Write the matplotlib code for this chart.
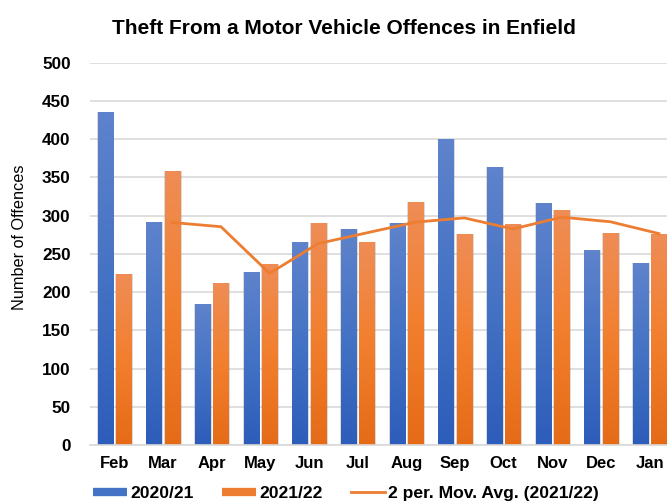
import numpy as np
import matplotlib
matplotlib.use("Agg")
import matplotlib.pyplot as plt
from matplotlib.colors import LinearSegmentedColormap
from matplotlib.lines import Line2D

months = ["Feb", "Mar", "Apr", "May", "Jun", "Jul", "Aug", "Sep", "Oct", "Nov", "Dec", "Jan"]
y2020 = [436, 292, 185, 226, 265, 282, 290, 400, 363, 316, 255, 238]
y2021 = [223, 359, 212, 237, 290, 265, 318, 276, 289, 307, 277, 276]
series_names = ["2020/21", "2021/22", "2 per. Mov. Avg. (2021/22)"]
title = "Theft From a Motor Vehicle Offences in Enfield"
ylabel = "Number of Offences"

plt.rcParams['font.family'] = ['Liberation Sans', 'DejaVu Sans']

W, H = 667, 501
fig = plt.figure(figsize=(W / 100, H / 100), dpi=100)
ax = fig.add_axes([90 / W, (H - 445) / H, 584 / W, 382.3 / H])

x = np.arange(len(months))
bw = 0.31
off = 0.19

blue_cmap = LinearSegmentedColormap.from_list("b", ["#2d5dba", "#4472c4", "#5f83cc"])
orange_cmap = LinearSegmentedColormap.from_list("o", ["#e56b17", "#f27f2e", "#ef8d56"])
grad = np.linspace(0, 1, 256).reshape(-1, 1)

def gradient_bars(xpos, vals, cmap, base):
    # soft shadow
    ax.bar(xpos + 0.012, vals, width=bw + 0.05, color="#9a9a9a", alpha=0.35, zorder=1.9, linewidth=0)
    bars = ax.bar(xpos, vals, width=bw, color=base, zorder=2, linewidth=0)
    for b in bars:
        x0, w, h = b.get_x(), b.get_width(), b.get_height()
        im = ax.imshow(grad, extent=[x0, x0 + w, 0, h], origin="lower", aspect="auto",
                       cmap=cmap, zorder=2.1, interpolation="bilinear")
        im.set_clip_path(b)
    return bars

gradient_bars(x - off, np.array(y2020), blue_cmap, "#4472c4")
gradient_bars(x + off, np.array(y2021), orange_cmap, "#ed7d31")

o = np.array(y2021, dtype=float)
mavg = (o[1:] + o[:-1]) / 2.0
ax.plot(x[1:] + off, mavg, color="#ed7d31", linewidth=2, zorder=3, solid_joinstyle="miter")

ax.set_xlim(-0.5, len(months) - 0.5)
ax.set_ylim(0, 500)
ax.set_yticks(np.arange(0, 501, 50))
ax.set_xticks(x)
ax.set_xticklabels(months, fontsize=12, fontweight="bold")
ax.tick_params(axis="y", labelsize=12.3, length=0, pad=14)
ax.tick_params(axis="x", length=0, pad=8)
for lab in ax.get_yticklabels():
    lab.set_fontweight("bold")
ax.grid(axis="y", color="#d9d9d9", linewidth=1.2, zorder=0)
ax.set_axisbelow(True)
for s in ["top", "right", "left"]:
    ax.spines[s].set_visible(False)
ax.spines["bottom"].set_color("#d9d9d9")
ax.spines["bottom"].set_linewidth(1.2)

fig.text(20 / W, 1 - 237 / H, ylabel, rotation=90, fontsize=11.7, ha="center", va="center")
fig.text(344 / W, 1 - 28.5 / H, title, fontsize=15, fontweight="bold", ha="center", va="center")

handles = [Line2D([], [], color="#4472c4", linewidth=6, solid_capstyle="butt"),
           Line2D([], [], color="#ed7d31", linewidth=6, solid_capstyle="butt"),
           Line2D([], [], color="#ed7d31", linewidth=2)]
fig.legend(handles, series_names, loc="center", bbox_to_anchor=(346 / W, 8 / H), ncol=3,
           frameon=False, prop={"size": 12.6, "weight": "bold"}, handlelength=1.9,
           handletextpad=0.2, columnspacing=1.65, borderpad=0, borderaxespad=0)

fig.savefig("out.png", dpi=100)
